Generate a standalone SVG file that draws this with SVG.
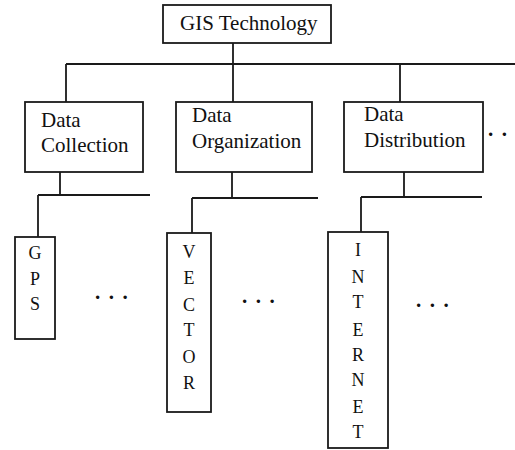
<svg xmlns="http://www.w3.org/2000/svg" width="515" height="450" viewBox="0 0 515 450">
<style>
.box{fill:#fff;stroke:#1a1a1a;stroke-width:1.8}
.ln{fill:none;stroke:#1a1a1a;stroke-width:1.8}
.t{font-family:"Liberation Serif","Times New Roman",serif;font-size:21px;fill:#111}
.v{font-family:"Liberation Serif","Times New Roman",serif;font-size:18px;fill:#111;text-anchor:middle}
.d{font-family:"Liberation Serif","Times New Roman",serif;font-size:21px;font-weight:bold;fill:#111;letter-spacing:1.6px}
</style>
<rect width="515" height="450" fill="#fff"/>
<g id="connectors">
<path class="ln" d="M233 43V64M66 64H515M66 64V102M233 64V102M400 64V102"/>
<path class="ln" d="M60 172V195M38 195H150M38 195V237"/>
<path class="ln" d="M232 172V198M192 198H318M192 198V233"/>
<path class="ln" d="M404 172V197M361 197H482M361 197V232"/>
</g>
<g id="gis">
<rect class="box" x="163" y="5" width="168" height="38"/>
<text class="t" x="180" y="30">GIS Technology</text>
</g>
<g id="collection">
<rect class="box" x="25" y="102" width="118" height="70"/>
<text class="t" x="41" y="127">Data</text>
<text class="t" x="41" y="152">Collection</text>
</g>
<g id="organization">
<rect class="box" x="176" y="102" width="136" height="70"/>
<text class="t" x="192" y="122">Data</text>
<text class="t" x="192" y="148">Organization</text>
</g>
<g id="distribution">
<rect class="box" x="344" y="102" width="139" height="70"/>
<text class="t" x="364" y="121">Data</text>
<text class="t" x="364" y="147">Distribution</text>
</g>
<text class="d" x="488" y="136">. .</text>
<g id="gps">
<rect class="box" x="15" y="237" width="40" height="102"/>
<text class="v" x="35" y="259">G</text>
<text class="v" x="35" y="285">P</text>
<text class="v" x="35" y="310">S</text>
</g>
<text class="d" x="95" y="299">. . .</text>
<g id="vector">
<rect class="box" x="167" y="233" width="44" height="179"/>
<text class="v" x="189" y="258">V</text>
<text class="v" x="189" y="284">E</text>
<text class="v" x="189" y="311">C</text>
<text class="v" x="189" y="336">T</text>
<text class="v" x="189" y="363">O</text>
<text class="v" x="189" y="389">R</text>
</g>
<text class="d" x="242" y="303">. . .</text>
<g id="internet">
<rect class="box" x="328" y="232" width="60" height="216"/>
<text class="v" x="358" y="256">I</text>
<text class="v" x="358" y="283">N</text>
<text class="v" x="358" y="308">T</text>
<text class="v" x="358" y="336">E</text>
<text class="v" x="358" y="361">R</text>
<text class="v" x="358" y="386">N</text>
<text class="v" x="358" y="413">E</text>
<text class="v" x="358" y="438">T</text>
</g>
<text class="d" x="416" y="307">. . .</text>
</svg>
